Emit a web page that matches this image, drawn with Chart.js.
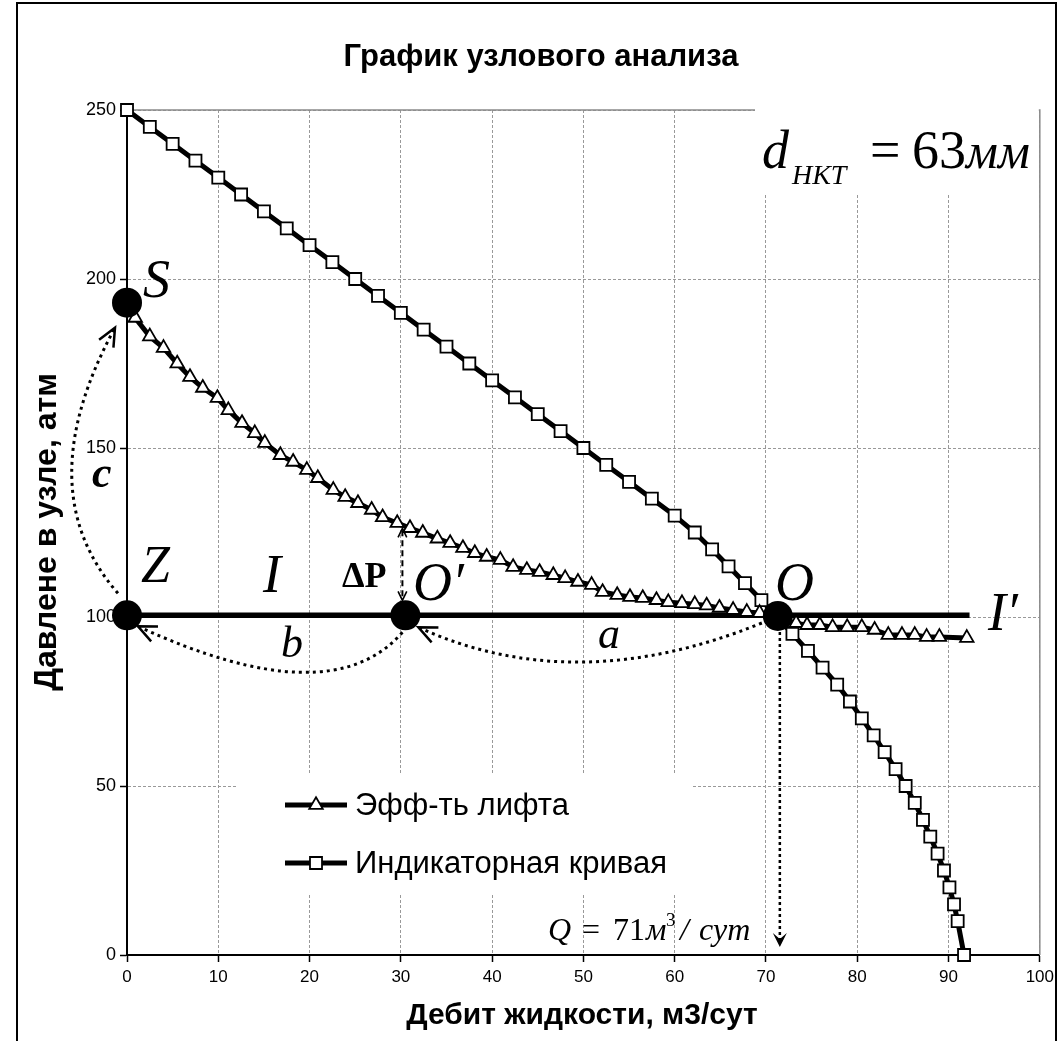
<!DOCTYPE html>
<html>
<head>
<meta charset="utf-8">
<script src="https://cdn.jsdelivr.net/npm/chart.js@4.4.1/dist/chart.umd.min.js"></script>
<style>
html, body { margin: 0; padding: 0; background: #fff; }
#myChart { display: block; }
</style>
</head>
<body>
<canvas id="myChart" width="1059" height="1041" style="width:1059px;height:1041px"></canvas>
<script>
// Индикаторная кривая (квадраты)
const indicatorQ = [0, 2.5, 5, 7.5, 10, 12.5, 15, 17.5, 20, 22.5, 25, 27.5, 30, 32.5, 35, 37.5, 40, 42.5, 45, 47.5,
    50, 52.5, 55, 57.5, 60, 62.2, 64.1, 65.9, 67.7, 69.5, 71.2, 72.9, 74.6, 76.2, 77.8, 79.2, 80.5, 81.8, 83.0, 84.2,
    85.3, 86.3, 87.2, 88.0, 88.8, 89.5, 90.1, 90.6, 91.0, 91.7];
const indicatorP = [250, 245, 240, 235, 230, 225, 220, 215, 210, 205, 200, 195, 190, 185, 180, 175, 170, 165, 160, 155,
    150, 145, 140, 135, 130, 125, 120, 115, 110, 105, 100, 95, 90, 85, 80, 75, 70, 65, 60, 55,
    50, 45, 40, 35, 30, 25, 20, 15, 10, 0];

// Эффективность лифта (треугольники)
const liftQ = [0, 0.9, 2.5, 4.0, 5.5, 6.9, 8.3, 9.9, 11.1, 12.6, 14.0, 15.1, 16.8, 18.2, 19.7, 20.9, 22.6, 23.9, 25.3,
    26.8, 28.0, 29.6, 31.0, 32.4, 34.0, 35.4, 36.8, 38.1, 39.4, 40.9, 42.3, 43.8, 45.2, 46.7, 48.0, 49.4, 50.9,
    52.1, 53.7, 55.1, 56.5, 58.0, 59.3, 60.8, 62.2, 63.5, 64.9, 66.4, 67.9, 69.3, 70.7, 72.0, 73.3, 74.5, 75.9,
    77.3, 78.9, 80.5, 81.9, 83.4, 84.9, 86.3, 87.6, 89.0, 92.0];
const liftP = [193, 188.5, 183, 179.6, 175, 171, 167.8, 164.8, 161.2, 157.4, 154.4, 151.5, 147.9, 145.9, 143.5, 141.1,
    137.6, 135.5, 133.7, 131.7, 129.5, 127.8, 126.3, 124.9, 123.2, 121.9, 120.4, 118.9, 117.8, 116.9, 114.8, 113.9,
    113.3, 112.4, 111.5, 110.4, 109.5, 107.4, 106.5, 105.9, 105.6, 105.0, 104.4, 104.1, 103.8, 103.4, 102.7, 102.1,
    101.5, 101.2, 100.3, 99.0, 98.2, 97.6, 97.6, 97.0, 97.0, 97.0, 96.2, 94.7, 94.7, 94.7, 94.1, 94.1, 93.8];

// линия I - I'
const lineQ = [0, 92.3];
const lineP = [100.5, 100.5];

// узловые точки S, Z, O', O
const nodeNames = ["S", "Z", "O'", "O"];
const nodeQ = [0, 0, 30.5, 71.3];
const nodeP = [193, 100.5, 100.5, 100.3];

const xTicks = [0, 10, 20, 30, 40, 50, 60, 70, 80, 90, 100];
const yTicks = [0, 50, 100, 150, 200, 250];

const SANS = "'Liberation Sans', Arial, sans-serif";
const SERIF = "'Liberation Serif', 'Times New Roman', serif";

function toPoints(qs, ps) {
    return qs.map((q, i) => ({ x: q, y: ps[i] }));
}

function liftAt(q) {
    for (let i = 1; i < liftQ.length; i++) {
        if (q <= liftQ[i]) {
            const t = (q - liftQ[i - 1]) / (liftQ[i] - liftQ[i - 1]);
            return liftP[i - 1] + t * (liftP[i] - liftP[i - 1]);
        }
    }
    return liftP[liftP.length - 1];
}

function head(ctx, x, y, ang, len, spread) {
    ctx.beginPath();
    ctx.moveTo(x - len * Math.cos(ang - spread), y - len * Math.sin(ang - spread));
    ctx.lineTo(x, y);
    ctx.lineTo(x - len * Math.cos(ang + spread), y - len * Math.sin(ang + spread));
    ctx.stroke();
}

function curveArrow(ctx, s, c, e) {
    ctx.save();
    ctx.lineWidth = 3;
    ctx.strokeStyle = "#000";
    ctx.setLineDash([3, 4]);
    ctx.beginPath();
    ctx.moveTo(s.x, s.y);
    ctx.quadraticCurveTo(c.x, c.y, e.x, e.y);
    ctx.stroke();
    ctx.setLineDash([]);
    ctx.lineWidth = 2.5;
    head(ctx, e.x, e.y, Math.atan2(e.y - c.y, e.x - c.x), 20, 0.42);
    ctx.restore();
}

function txt(ctx, s, x, y, font) {
    ctx.font = font;
    ctx.fillText(s, x, y);
}

const nodalPlugin = {
    id: "nodal",
    beforeDatasetsDraw(chart) {
        const ctx = chart.ctx;
        const a = chart.chartArea;
        ctx.save();
        // рамка области построения
        ctx.strokeStyle = "#8a8a8a";
        ctx.lineWidth = 1.5;
        ctx.beginPath();
        ctx.moveTo(a.left, a.top);
        ctx.lineTo(a.right, a.top);
        ctx.lineTo(a.right, a.bottom);
        ctx.stroke();
        // белые подложки
        ctx.fillStyle = "#fff";
        ctx.fillRect(755, a.top - 2, a.right - 756, 85);
        ctx.fillRect(237, 773, 455, 120);
        ctx.restore();
    },
    afterDatasetsDraw(chart) {
        const ctx = chart.ctx;
        const xs = chart.scales.x, ys = chart.scales.y;
        const N = nodeQ.map((q, i) => ({ x: xs.getPixelForValue(q), y: ys.getPixelForValue(nodeP[i]) }));
        const S = N[0], Z = N[1], O1 = N[2], O = N[3];
        ctx.save();

        // c: Z -> S
        curveArrow(ctx, { x: Z.x - 9, y: Z.y - 22 }, { x: Z.x - 100, y: Z.y - 126 }, { x: S.x - 12, y: S.y + 25 });
        // b: O' -> Z
        curveArrow(ctx, { x: O1.x - 3, y: O1.y + 17 }, { x: O1.x - 75, y: O1.y + 100 }, { x: Z.x + 11, y: Z.y + 11 });
        // a: O -> O'
        curveArrow(ctx, { x: O.x - 16, y: O.y + 7 }, { x: O.x - 203, y: O.y + 83 }, { x: O1.x + 13, y: O1.y + 12 });

        // Q: вертикальная стрелка от O
        const qx = O.x + 2;
        const qTip = ys.getPixelForValue(0) - 8;
        ctx.strokeStyle = "#000";
        ctx.fillStyle = "#000";
        ctx.lineWidth = 2.5;
        ctx.setLineDash([3, 3]);
        ctx.beginPath();
        ctx.moveTo(qx, O.y + 16);
        ctx.lineTo(qx, qTip - 8);
        ctx.stroke();
        ctx.setLineDash([]);
        ctx.beginPath();
        ctx.moveTo(qx - 7, qTip - 14);
        ctx.lineTo(qx, qTip);
        ctx.lineTo(qx + 7, qTip - 14);
        ctx.lineTo(qx, qTip - 8);
        ctx.closePath();
        ctx.fill();

        // ΔP: пунктир между кривой лифта и O'
        const dx = O1.x - 3;
        const dTop = ys.getPixelForValue(liftAt(nodeQ[2])) + 2;
        const dBot = O1.y - 15;
        ctx.lineWidth = 2;
        ctx.setLineDash([6, 4]);
        ctx.beginPath();
        ctx.moveTo(dx, dTop + 2);
        ctx.lineTo(dx, dBot - 2);
        ctx.stroke();
        ctx.setLineDash([]);
        ctx.lineWidth = 1.6;
        head(ctx, dx, dTop, -Math.PI / 2, 10, 0.45);
        head(ctx, dx, dBot, Math.PI / 2, 10, 0.45);

        // подписи
        ctx.fillStyle = "#000";
        ctx.textBaseline = "alphabetic";
        ctx.textAlign = "left";
        txt(ctx, "S", 143, 297, "italic 54px " + SERIF);
        txt(ctx, "Z", 141, 582, "italic 52px " + SERIF);
        txt(ctx, "I", 263, 592, "italic 54px " + SERIF);
        txt(ctx, "ΔP", 342, 587, "bold 36px " + SERIF);
        txt(ctx, "O\u2032", 413, 600, "italic 54px " + SERIF);
        txt(ctx, "O", 775, 600, "italic 54px " + SERIF);
        txt(ctx, "I\u2032", 988, 630, "italic 54px " + SERIF);
        txt(ctx, "b", 281, 657, "italic 44px " + SERIF);
        txt(ctx, "a", 598, 648, "italic 44px " + SERIF);
        txt(ctx, "c", 92, 487, "bold italic 44px " + SERIF);

        // d_НКТ = 63мм
        txt(ctx, "d", 762, 168, "italic 54px " + SERIF);
        txt(ctx, "НКТ", 792, 184, "italic 28px " + SERIF);
        txt(ctx, "=", 870, 168, "54px " + SERIF);
        txt(ctx, "63", 912, 168, "54px " + SERIF);
        txt(ctx, "мм", 966, 168, "italic 50px " + SERIF);

        // Q = 71м³/сут
        txt(ctx, "Q", 548, 940, "italic 32px " + SERIF);
        txt(ctx, "=", 582, 940, "32px " + SERIF);
        txt(ctx, "71", 613, 940, "32px " + SERIF);
        txt(ctx, "м", 646, 940, "italic 32px " + SERIF);
        txt(ctx, "3", 666, 926, "19px " + SERIF);
        txt(ctx, "/", 680, 940, "italic 32px " + SERIF);
        txt(ctx, "сут", 699, 940, "italic 32px " + SERIF);

        // легенда
        const legendRows = [
            { ds: chart.data.datasets[1], y: 805 },
            { ds: chart.data.datasets[2], y: 863 }
        ];
        legendRows.forEach(r => {
            ctx.strokeStyle = "#000";
            ctx.lineWidth = 5;
            ctx.beginPath();
            ctx.moveTo(285, r.y);
            ctx.lineTo(347, r.y);
            ctx.stroke();
            ctx.fillStyle = "#fff";
            ctx.lineWidth = r.ds.pointBorderWidth;
            Chart.helpers.drawPoint(ctx, { pointStyle: r.ds.pointStyle, radius: r.ds.pointRadius, borderWidth: r.ds.pointBorderWidth }, 316, r.y);
            ctx.fillStyle = "#000";
            ctx.textBaseline = "middle";
            txt(ctx, r.ds.label, 355, r.y + 1, "31px " + SANS);
        });
        ctx.restore();
    },
    afterDraw(chart) {
        const ctx = chart.ctx;
        ctx.save();
        ctx.fillStyle = "#000";
        ctx.textAlign = "center";
        ctx.textBaseline = "middle";
        txt(ctx, "График узлового анализа", 541, 57, "bold 31px " + SANS);
        txt(ctx, "Дебит жидкости, м3/сут", 582, 1016, "bold 30px " + SANS);
        ctx.translate(47, 532);
        ctx.rotate(-Math.PI / 2);
        txt(ctx, "Давлене в узле, атм", 0, 0, "bold 32px " + SANS);
        ctx.restore();
        ctx.save();
        ctx.strokeStyle = "#000";
        ctx.lineWidth = 2;
        ctx.strokeRect(17, 3, 1039, 1060);
        ctx.restore();
    }
};

const ctx = document.getElementById("myChart");

const myChart = new Chart(ctx, {
    type: "scatter",
    data: {
        datasets: [
            {
                label: "Узлы",
                data: toPoints(nodeQ, nodeP),
                showLine: false,
                pointRadius: 15,
                pointBackgroundColor: "#000",
                pointBorderColor: "#000",
                pointBorderWidth: 0,
                clip: false,
                order: 0
            },
            {
                label: "Эфф-ть лифта",
                data: toPoints(liftQ, liftP),
                showLine: true,
                borderColor: "#000",
                borderWidth: 5,
                pointStyle: "triangle",
                pointRadius: 7.8,
                pointBackgroundColor: "#fff",
                pointBorderColor: "#000",
                pointBorderWidth: 1.8,
                clip: false,
                order: 1
            },
            {
                label: "Индикаторная кривая",
                data: toPoints(indicatorQ, indicatorP),
                showLine: true,
                borderColor: "#000",
                borderWidth: 5,
                pointStyle: "rect",
                pointRadius: 8.5,
                pointBackgroundColor: "#fff",
                pointBorderColor: "#000",
                pointBorderWidth: 1.8,
                clip: false,
                order: 2
            },
            {
                label: "I - I'",
                data: toPoints(lineQ, lineP),
                showLine: true,
                borderColor: "#000",
                borderWidth: 5.5,
                pointRadius: 0,
                clip: false,
                order: 3
            }
        ]
    },
    options: {
        responsive: false,
        animation: false,
        devicePixelRatio: 1,
        layout: { padding: { left: 0, top: 110, right: 18, bottom: 0 } },
        plugins: {
            legend: { display: false },
            tooltip: { enabled: false },
            title: { display: false }
        },
        scales: {
            x: {
                type: "linear",
                min: 0,
                max: 100,
                afterBuildTicks: (s) => { s.ticks = xTicks.map(v => ({ value: v })); },
                afterFit: (s) => { s.height = 86; },
                ticks: { color: "#000", font: { family: SANS, size: 17 }, padding: 5, maxRotation: 0, autoSkip: false },
                grid: { color: "#999", lineWidth: 1, tickLength: 7, tickColor: "#000", tickWidth: 1.5 },
                border: { color: "#000", width: 2, dash: [3, 2] }
            },
            y: {
                type: "linear",
                min: 0,
                max: 250,
                afterBuildTicks: (s) => { s.ticks = yTicks.map(v => ({ value: v })); },
                afterFit: (s) => { s.width = 127; },
                ticks: { color: "#000", font: { family: SANS, size: 18 }, padding: 4, autoSkip: false },
                grid: { color: "#999", lineWidth: 1, tickLength: 7, tickColor: "#000", tickWidth: 1.5 },
                border: { color: "#000", width: 2, dash: [3, 2] }
            }
        }
    },
    plugins: [nodalPlugin]
});
</script>
</body>
</html>
